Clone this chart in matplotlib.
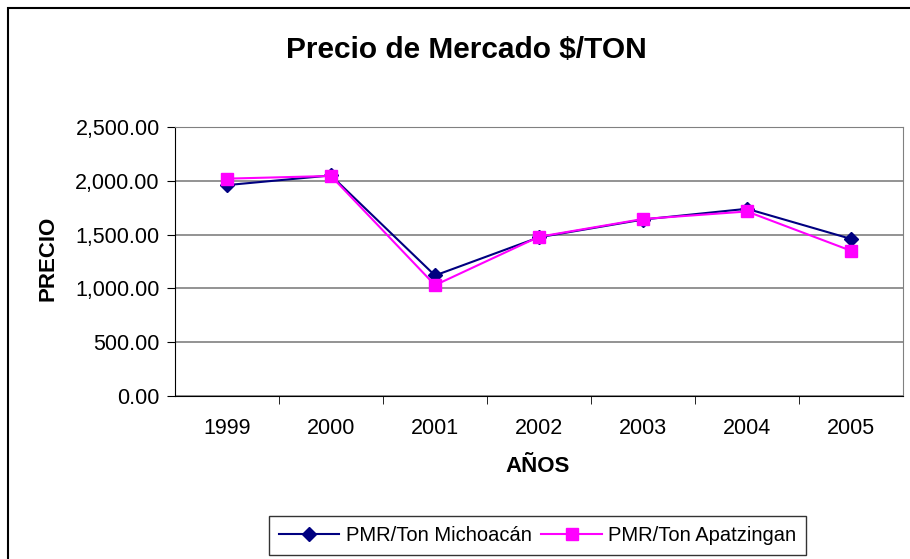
import matplotlib
matplotlib.use("Agg")
from matplotlib import pyplot as plt
from matplotlib.patches import Rectangle

plt.rcParams['font.family'] = ['Liberation Sans', 'DejaVu Sans']

#   DATA
years = ['1999', '2000', '2001', '2002', '2003', '2004', '2005']
michoacan = [1960, 2050, 1120, 1475, 1640, 1740, 1460]
apatzingan = [2020, 2045, 1030, 1480, 1645, 1715, 1350]
y_ticks = [0, 500, 1000, 1500, 2000, 2500]

fig = plt.figure(figsize=(9.1, 5.59), dpi=100)
ax = fig.add_axes([0.1923, 0.2916, 0.80, 0.4812])

x = list(range(len(years)))
ax.plot(x, michoacan, color='#000080', marker='D', markersize=7, linewidth=1.5,
        label='PMR/Ton Michoacán', zorder=3)
ax.plot(x, apatzingan, color='#FF00FF', marker='s', markersize=8, linewidth=1.5,
        label='PMR/Ton Apatzingan', zorder=4)

#   AXES
ax.set_xlim(-0.5, len(years) - 0.5)
ax.set_ylim(0, 2500)
ax.set_yticks(y_ticks)
ax.set_yticklabels(['{:,.2f}'.format(v) for v in y_ticks])
ax.set_xticks(x)
ax.set_xticklabels(years)
ax.set_xticks([i + 0.5 for i in range(len(years) - 1)], minor=True)
ax.tick_params(axis='x', which='major', length=0, pad=16, labelsize=15.5)
ax.tick_params(axis='x', which='minor', length=6, direction='out', color='black')
ax.tick_params(axis='y', length=6, direction='out', labelsize=15.5, pad=5)

ax.grid(axis='y', color='#808080', linewidth=1.2)
ax.set_axisbelow(True)
for side in ['top', 'right']:
    ax.spines[side].set_color('#808080')
for side in ['left', 'bottom']:
    ax.spines[side].set_color('black')

#   TITLE AND AXIS LABELS
fig.text(0.513, 0.9106, 'Precio de Mercado $/TON', fontsize=21.5, fontweight='bold',
         ha='center', va='center')
fig.text(0.0527, 0.538, 'PRECIO', fontsize=16, fontweight='bold', rotation=90,
         ha='center', va='center')
fig.text(0.591, 0.1646, 'AÑOS', fontsize=16, fontweight='bold', ha='center', va='center')

leg = fig.legend(loc='center', bbox_to_anchor=(0.5907, 0.042), ncol=2, fontsize=14.5,
                 frameon=True, fancybox=False, edgecolor='black', handlelength=3,
                 columnspacing=0.5, handletextpad=0.3, borderpad=0.5)
leg.get_frame().set_linewidth(1.0)

#   OUTER CHART BORDER
fig.patches.append(Rectangle((0.0088, -0.1), 1.2, 1.0857, transform=fig.transFigure,
                             fill=False, edgecolor='black', linewidth=1.5))

fig.savefig('out.png', dpi=100)
